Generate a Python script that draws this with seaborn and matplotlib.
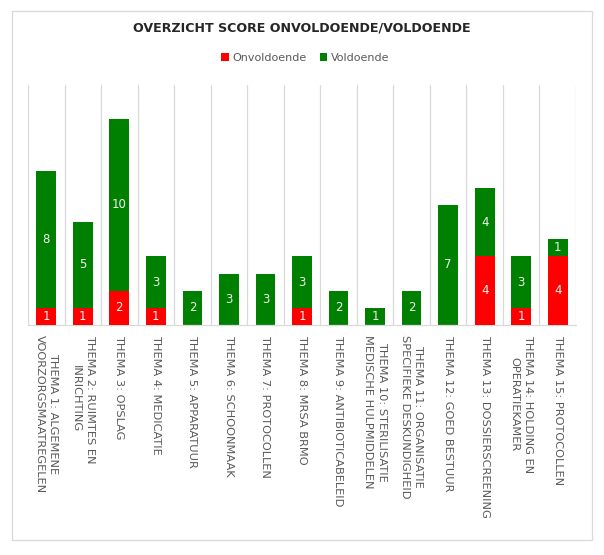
import matplotlib
matplotlib.use("Agg")
import matplotlib.pyplot as plt
import seaborn as sns
import pandas as pd
from matplotlib.patches import Patch, Rectangle

categories = [
    "THEMA 1: ALGEMENE\nVOORZORGSMAATREGELEN",
    "THEMA 2: RUIMTES EN\nINRICHTING",
    "THEMA 3: OPSLAG",
    "THEMA 4: MEDICATIE",
    "THEMA 5: APPARATUUR",
    "THEMA 6: SCHOONMAAK",
    "THEMA 7: PROTOCOLLEN",
    "THEMA 8: MRSA BRMO",
    "THEMA 9: ANTIBIOTICABELEID",
    "THEMA 10: STERILISATIE\nMEDISCHE HULPMIDDELEN",
    "THEMA 11: ORGANISATIE\nSPECIFIEKE DESKUNDIGHEID",
    "THEMA 12: GOED BESTUUR",
    "THEMA 13: DOSSIERSCREENING",
    "THEMA 14: HOLDING EN\nOPERATIEKAMER",
    "THEMA 15: PROTOCOLLEN",
]
onvoldoende = [1, 1, 2, 1, 0, 0, 0, 1, 0, 0, 0, 0, 4, 1, 4]
voldoende = [8, 5, 10, 3, 2, 3, 3, 3, 2, 1, 2, 7, 4, 3, 1]
series_names = ["Onvoldoende", "Voldoende"]
title = "OVERZICHT SCORE ONVOLDOENDE/VOLDOENDE"

RED = "#FF0000"
GREEN = "#008000"

sns.set_style("white")
plt.rcParams["font.family"] = ["DejaVu Sans"]

df = pd.DataFrame({"cat": categories, "red": onvoldoende, "green": voldoende})
df["total"] = df["red"] + df["green"]

W, H = 604, 555
fig = plt.figure(figsize=(W / 100, H / 100), dpi=100)
ax = fig.add_axes([28 / W, (H - 325) / H, (576 - 28) / W, 240 / H])

sns.barplot(data=df, x="cat", y="total", color=GREEN, saturation=1, width=0.54,
            ax=ax, linewidth=0, zorder=2)
sns.barplot(data=df, x="cat", y="red", color=RED, saturation=1, width=0.54,
            ax=ax, linewidth=0, zorder=3)

for i, (r, g) in enumerate(zip(onvoldoende, voldoende)):
    if r > 0:
        ax.text(i, r / 2, str(r), ha="center", va="center", color="#F2F2F2",
                fontsize=8.5, zorder=4)
    if g > 0:
        ax.text(i, r + g / 2, str(g), ha="center", va="center", color="#F2F2F2",
                fontsize=8.5, zorder=4)

ax.set_xlim(-0.5, len(categories) - 0.5)
ax.set_ylim(0, 14)
ax.set_xlabel("")
ax.set_ylabel("")
ax.set_yticks([])
ax.set_xticks(range(len(categories)))
ax.set_xticklabels(categories, rotation=-90, ha="center", va="top",
                   multialignment="center", fontsize=8.2, color="#595959",
                   linespacing=1.45)
ax.tick_params(axis="x", length=0, pad=7)
ax.set_xticks([i - 0.5 for i in range(len(categories) + 1)], minor=True)
ax.tick_params(axis="x", which="minor", length=0)
ax.grid(False)
ax.grid(True, axis="x", which="minor", color="#D9D9D9", linewidth=0.9, zorder=0)
ax.set_axisbelow(True)
for s in ["top", "left", "right"]:
    ax.spines[s].set_visible(False)
ax.spines["bottom"].set_color("#D9D9D9")
ax.spines["bottom"].set_linewidth(0.9)

fig.text(0.5, 1 - 28 / H, title, ha="center", va="center", fontsize=9.1,
         fontweight="bold", color="#262626")

handles = [Patch(facecolor=RED, edgecolor="none"), Patch(facecolor=GREEN, edgecolor="none")]
fig.legend(handles, series_names, loc="center", bbox_to_anchor=(305 / W, 1 - 58 / H),
           ncol=2, frameon=False, fontsize=8, handlelength=0.7, handleheight=0.7,
           handletextpad=0.3, columnspacing=1.2, labelcolor="#595959")

fig.patches.append(Rectangle((12 / W, (H - 540) / H), 580 / W, 529 / H,
                             transform=fig.transFigure, fill=False,
                             edgecolor="#D9D9D9", linewidth=0.9))

fig.savefig("out.png", dpi=100, facecolor="white")
